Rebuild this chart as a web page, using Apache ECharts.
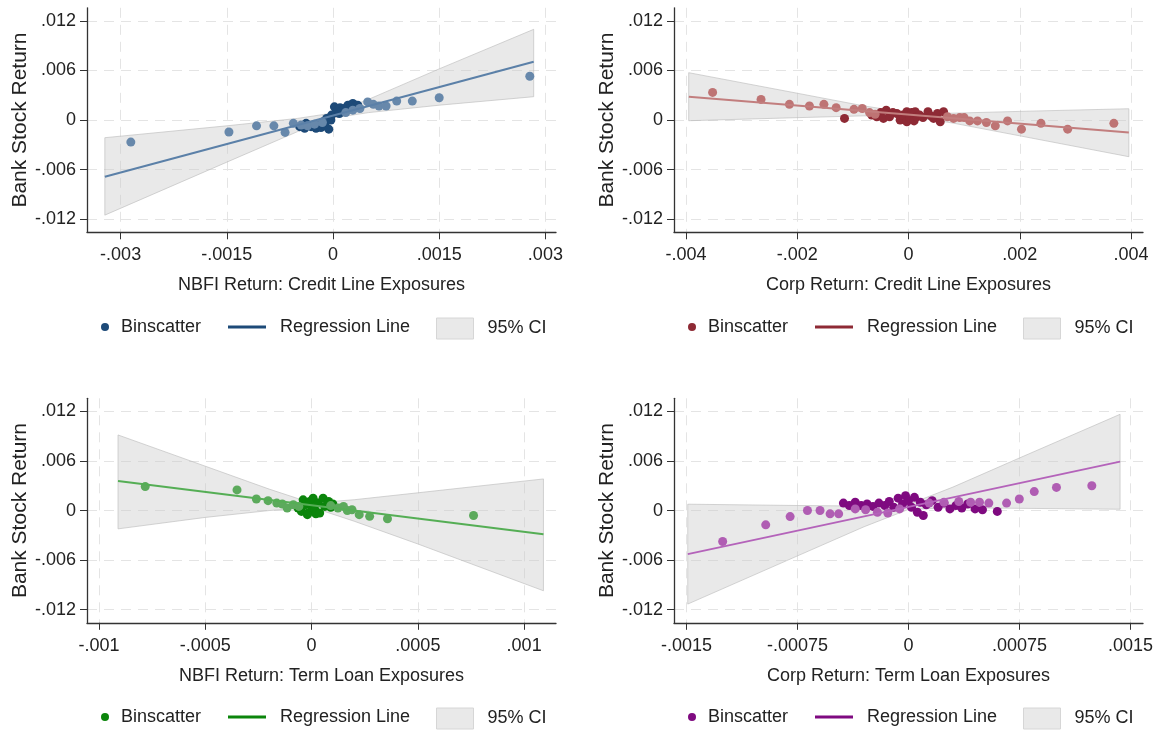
<!DOCTYPE html>
<html>
<head>
<meta charset="utf-8">
<script src="https://cdn.jsdelivr.net/npm/echarts@6/dist/echarts.min.js"></script>
<style>
html, body { margin: 0; padding: 0; background: #fff; }
#chart { width: 1161px; height: 735px; }
</style>
</head>
<body>
<div id="chart"></div>
<script>
// shared y axis
const yTicks = [-0.012, -0.006, 0, 0.006, 0.012];
const yName = 'Bank Stock Return';
const legendLabels = { bin: 'Binscatter', reg: 'Regression Line', ci: '95% CI' };

// panel 1: NBFI credit line
const p1Title = 'NBFI Return: Credit Line Exposures';
const p1XTicks = [-0.003, -0.0015, 0, 0.0015, 0.003];
const p1Dark = [[-0.00047,-0.0008],[-0.0004,-0.001],[-0.00038,-0.0004],[-0.00031,-0.0008],[-0.00024,-0.001],
  [-0.00021,-0.0006],[-0.00017,-0.0009],[-0.00014,-0.0002],[-0.00011,-0.0007],[-0.00009,0.0002],[-0.00006,-0.0011],
  [-0.00003,0.0],[-0.00002,0.0006],[0.00002,0.0016],[0.00004,0.0009],[0.00007,0.0012],[0.00009,0.0008],
  [0.0001,0.0015],[0.00012,0.0011],[0.00016,0.0014],[0.00021,0.0018],[0.00025,0.0015],[0.00028,0.002],
  [0.00032,0.0017],[0.00035,0.0018]];
const p1Light = [[-0.002856,-0.00267],[-0.00147,-0.00145],[-0.00108,-0.0007],[-0.000835,-0.0007],[-0.000677,-0.0015],
  [-0.00056,-0.0004],[-0.00045,-0.0006],[-0.00036,-0.0007],[-0.00026,-0.0005],[-0.00015,-0.0003],[0.00018,0.0009],
  [0.00028,0.0012],[0.00038,0.0014],[0.00049,0.0022],[0.00057,0.0019],[0.00065,0.0017],[0.00075,0.0017],
  [0.0009,0.0023],[0.00112,0.0023],[0.0015,0.0027],[0.00278,0.0053]];
const p1RegX = [-0.003223, 0.002835];
const p1RegY = [-0.00687, 0.00707];
const p1CiX = [-0.003223, -0.0015, -0.0005, 0, 0.0005, 0.0015, 0.002835];
const p1CiLo = [-0.01152, -0.0051, -0.0014, 0.00025, 0.0009, 0.0018, 0.00283];
const p1CiHi = [-0.00214, -0.0007, 0.0002, 0.00085, 0.0025, 0.0062, 0.01099];

// panel 2: corp credit line
const p2Title = 'Corp Return: Credit Line Exposures';
const p2XTicks = [-0.004, -0.002, 0, 0.002, 0.004];
const p2Dark = [[-0.00115,0.0002],[-0.00066,0.0006],[-0.00057,0.0004],[-0.0005,0.0009],[-0.00045,0.0002],
  [-0.0004,0.0012],[-0.00034,0.0004],[-0.00028,0.0009],[-0.00021,0.0008],[-0.00015,0.0],[-0.0001,0.0006],
  [-0.00003,0.001],[-0.00003,-0.0002],[0.00003,0.0002],[0.00006,0.0009],[0.0001,-0.0001],[0.00012,0.001],
  [0.00015,0.0004],[0.0002,0.0006],[0.00026,0.0003],[0.00035,0.001],[0.0004,0.0005],[0.00045,0.0002],
  [0.00052,0.0008],[0.00057,-0.0002],[0.00063,0.001]];
const p2Light = [[-0.00352,0.00335],[-0.00265,0.0025],[-0.00214,0.0019],[-0.00178,0.0017],[-0.00152,0.0019],
  [-0.0013,0.0015],[-0.00098,0.0013],[-0.00083,0.0014],[-0.0007,0.0009],[-0.0006,0.0007],[0.0007,0.0004],
  [0.00081,0.0002],[0.00092,0.0003],[0.001,0.0003],[0.0011,-0.0001],[0.00124,-0.0001],[0.0014,-0.0003],
  [0.00156,-0.0007],[0.00178,-0.0001],[0.00203,-0.0011],[0.00238,-0.0004],[0.00286,-0.0011],[0.00369,-0.0004]];
const p2RegX = [-0.003947, 0.00396];
const p2RegY = [0.00283, -0.0015];
const p2CiX = [-0.00395, -0.002, -0.0008, 0, 0.0008, 0.002, 0.00396];
const p2CiLo = [-0.00008, 0.00029, 0.00051, 0.00047, -0.00037, -0.00191, -0.00444];
const p2CiHi = [0.00574, 0.00325, 0.00171, 0.00087, 0.00083, 0.00105, 0.00137];

// panel 3: NBFI term loan
const p3Title = 'NBFI Return: Term Loan Exposures';
const p3XTicks = [-0.001, -0.0005, 0, 0.0005, 0.001];
const p3Dark = [[-0.000064,0.0003],[-0.000048,-0.0001],[-0.00004,0.0013],[-0.000032,0.0007],[-0.00002,-0.0005],
  [-0.000017,-0.0003],[-0.000009,0.0011],[0.0,0.0004],[0.000007,0.0015],[0.000015,0.0001],[0.00002,-0.0004],
  [0.00003,0.0009],[0.000038,-0.0003],[0.000054,0.0015],[0.000062,0.0005],[0.00008,0.0011],[0.00009,0.0004],
  [0.0001,0.0008]];
const p3Light = [[-0.000783,0.0029],[-0.000351,0.0025],[-0.00026,0.0014],[-0.000205,0.0012],[-0.000164,0.0009],
  [-0.000138,0.0008],[-0.000115,0.0003],[-0.000086,0.0007],[-0.00006,0.0005],[0.00009,0.0006],[0.000124,0.0003],
  [0.00015,0.0005],[0.000168,0.0],[0.00019,0.0001],[0.000224,-0.0005],[0.000273,-0.0007],[0.000357,-0.001],
  [0.000762,-0.0006]];
const p3RegX = [-0.000911, 0.001091];
const p3RegY = [0.00359, -0.00286];
const p3CiX = [-0.000911, -0.0005, -0.0002, 0, 0.0002, 0.0005, 0.001091];
const p3CiLo = [-0.00222, -0.00083, 0.0, 0.00041, -0.00129, -0.00405, -0.00972];
const p3CiHi = [0.00916, 0.00537, 0.0026, 0.00091, 0.00131, 0.00215, 0.00383];

// panel 4: corp term loan
const p4Title = 'Corp Return: Term Loan Exposures';
const p4XTicks = [-0.0015, -0.00075, 0, 0.00075, 0.0015];
const p4Dark = [[-0.00044,0.0009],[-0.0004,0.0006],[-0.00036,0.001],[-0.00032,0.0006],[-0.00028,0.0008],
  [-0.00024,0.0005],[-0.0002,0.0009],[-0.00016,0.0006],[-0.00013,0.0011],[-0.0001,0.0004],[-0.00007,0.0015],
  [-0.00004,0.0008],[-0.00002,0.0018],[0.0,0.0012],[0.00002,0.0004],[0.00004,0.0016],[0.00006,-0.0002],
  [0.00008,0.001],[0.0001,-0.0006],[0.00012,0.0007],[0.00016,0.0012],[0.0002,0.0004],[0.00024,0.0009],
  [0.00028,0.0002],[0.00032,0.0006],[0.00036,0.0003],[0.0004,0.0008],[0.00045,0.0002],[0.0005,0.0001],
  [0.0006,-0.0001]];
const p4Light = [[-0.001256,-0.00375],[-0.000965,-0.00173],[-0.0008,-0.00073],[-0.000683,0.0],[-0.000598,0.0],
  [-0.00053,-0.0004],[-0.000472,-0.0004],[-0.00036,0.0002],[-0.00029,0.0001],[-0.00021,-0.0002],[-0.00014,-0.0003],
  [-0.00006,0.0002],[0.00014,0.0009],[0.00024,0.001],[0.00034,0.0011],[0.00042,0.001],[0.00048,0.001],
  [0.000543,0.0009],[0.000663,0.0009],[0.000749,0.0014],[0.00085,0.0023],[0.001,0.0028],[0.001239,0.003]];
const p4RegX = [-0.001492, 0.00143];
const p4RegY = [-0.00528, 0.00593];
const p4CiX = [-0.001492, -0.00075, -0.0003, 0, 0.0003, 0.00075, 0.00143];
const p4CiLo = [-0.01133, -0.00549, -0.00196, 0.00014, 0.00034, 0.00027, 0.00016];
const p4CiHi = [0.00077, 0.00061, 0.00054, 0.00074, 0.00284, 0.00637, 0.01166];

const panels = [
  { title: p1Title, xTicks: p1XTicks, xMin: -0.003475, xMax: 0.00315, dark: p1Dark, light: p1Light,
    regX: p1RegX, regY: p1RegY, ciX: p1CiX, ciLo: p1CiLo, ciHi: p1CiHi,
    cDark: '#1d4a78', cLight: '#6788ab', cLine: '#5b80a8' },
  { title: p2Title, xTicks: p2XTicks, xMin: -0.004214, xMax: 0.004214, dark: p2Dark, light: p2Light,
    regX: p2RegX, regY: p2RegY, ciX: p2CiX, ciLo: p2CiLo, ciHi: p2CiHi,
    cDark: '#8e2a35', cLight: '#be7474', cLine: '#c27e7e' },
  { title: p3Title, xTicks: p3XTicks, xMin: -0.001057, xMax: 0.00115, dark: p3Dark, light: p3Light,
    regX: p3RegX, regY: p3RegY, ciX: p3CiX, ciLo: p3CiLo, ciHi: p3CiHi,
    cDark: '#0b850b', cLight: '#5caa5c', cLine: '#55ae55' },
  { title: p4Title, xTicks: p4XTicks, xMin: -0.001585, xMax: 0.001585, dark: p4Dark, light: p4Light,
    regX: p4RegX, regY: p4RegY, ciX: p4CiX, ciLo: p4CiLo, ciHi: p4CiHi,
    cDark: '#7f0a80', cLight: '#b05db3', cLine: '#b463ba' }
];

const fontFamily = '"Liberation Sans", Arial, sans-serif';
const fs = 18;
const txt = '#222';
const axisColor = '#333';
const fmt = v => (v === 0 ? '0' : String(v).replace('0.', '.'));

const gridLefts = [87, 674];
const gridTops = [7.8, 398.3];
const legendCenters = [328, 718];
const legendShift = [0, 587];

let grid = [], xAxis = [], yAxis = [], series = [], legend = [];

panels.forEach((p, i) => {
  const col = i % 2, row = Math.floor(i / 2);
  grid.push({ left: gridLefts[col], top: gridTops[row], width: 469, height: 224.5 });

  xAxis.push({
    type: 'value', gridIndex: i, min: p.xMin, max: p.xMax,
    name: p.title, nameLocation: 'middle', nameGap: 44,
    nameTextStyle: { fontSize: fs, color: txt, fontFamily },
    axisLine: { show: true, onZero: false, lineStyle: { color: axisColor, width: 1.3 } },
    axisTick: { show: true, length: 7, customValues: p.xTicks, lineStyle: { color: axisColor } },
    axisLabel: { customValues: p.xTicks, formatter: fmt, fontSize: fs, color: txt, fontFamily, margin: 14 },
    splitLine: { show: true, lineStyle: { color: '#e4e4e4', type: [10, 7] } }
  });
  yAxis.push({
    type: 'value', gridIndex: i, min: -0.0136, max: 0.0136,
    name: yName, nameLocation: 'middle', nameGap: 56,
    nameTextStyle: { fontSize: 21, color: txt, fontFamily },
    axisLine: { show: true, onZero: false, lineStyle: { color: axisColor, width: 1.3 } },
    axisTick: { show: true, length: 7, customValues: yTicks, lineStyle: { color: axisColor } },
    axisLabel: { customValues: yTicks, formatter: fmt, fontSize: fs, color: txt, fontFamily, margin: 11 },
    splitLine: { show: true, lineStyle: { color: '#e4e4e4', type: [10, 7] } }
  });

  series.push({
    name: 'ci' + i, type: 'custom', xAxisIndex: i, yAxisIndex: i, z: 1,
    itemStyle: { color: '#e9e9e9', borderColor: '#d6d6d6', borderWidth: 1 },
    encode: { x: 0, y: [1, 2] },
    data: p.ciX.map((x, k) => [x, p.ciLo[k], p.ciHi[k]]),
    renderItem: function (params, api) {
      if (params.dataIndex !== 0) return null;
      const pts = [];
      p.ciX.forEach((x, k) => pts.push(api.coord([x, p.ciHi[k]])));
      for (let k = p.ciX.length - 1; k >= 0; k--) pts.push(api.coord([p.ciX[k], p.ciLo[k]]));
      return {
        type: 'polygon', shape: { points: pts },
        style: { fill: 'rgba(200,200,200,0.4)', stroke: 'rgba(185,185,185,0.6)', lineWidth: 1 }
      };
    }
  });
  series.push({
    name: 'bin' + i, type: 'scatter', xAxisIndex: i, yAxisIndex: i, z: 3,
    symbolSize: 9, itemStyle: { color: p.cDark, opacity: 1 }, data: p.dark
  });
  series.push({
    name: 'binL' + i, type: 'scatter', xAxisIndex: i, yAxisIndex: i, z: 3,
    symbolSize: 9, itemStyle: { color: p.cLight, opacity: 1 }, data: p.light
  });
  series.push({
    name: 'reg' + i, type: 'line', xAxisIndex: i, yAxisIndex: i, z: 4,
    symbol: 'none', lineStyle: { color: p.cLine, width: 2 }, itemStyle: { color: p.cLine },
    data: p.regX.map((x, k) => [x, p.regY[k]])
  });

  const off = legendShift[col], cy = legendCenters[row];
  const base = {
    orient: 'horizontal', padding: 0, selectedMode: false,
    formatter: name => legendLabels[name.replace(/\d+$/, '')]
  };
  legend.push(Object.assign({}, base, {
    left: 101 + off, top: cy - 10, itemWidth: 8, itemHeight: 8, icon: 'circle',
    textStyle: { fontSize: fs, color: txt, fontFamily, padding: [0, 0, 0, 7] },
    data: [{ name: 'bin' + i, itemStyle: { color: p.cDark } }]
  }));
  legend.push(Object.assign({}, base, {
    left: 228 + off, top: cy - 10, itemWidth: 38, itemHeight: 3, icon: 'rect',
    textStyle: { fontSize: fs, color: txt, fontFamily, padding: [0, 0, 0, 9] },
    data: [{ name: 'reg' + i, itemStyle: { color: p.cDark } }]
  }));
  legend.push(Object.assign({}, base, {
    left: 436 + off, top: cy - 10.5, itemWidth: 37, itemHeight: 21, icon: 'rect',
    textStyle: { fontSize: fs, color: txt, fontFamily, padding: [0, 0, 0, 9] },
    data: [{ name: 'ci' + i, itemStyle: { color: '#e9e9e9', borderColor: '#d6d6d6', borderWidth: 1 } }]
  }));
});

const chart = echarts.init(document.getElementById('chart'), null, { renderer: 'canvas' });
chart.setOption({
  animation: false,
  backgroundColor: '#fff',
  grid, xAxis, yAxis, series, legend
});
</script>
</body>
</html>
